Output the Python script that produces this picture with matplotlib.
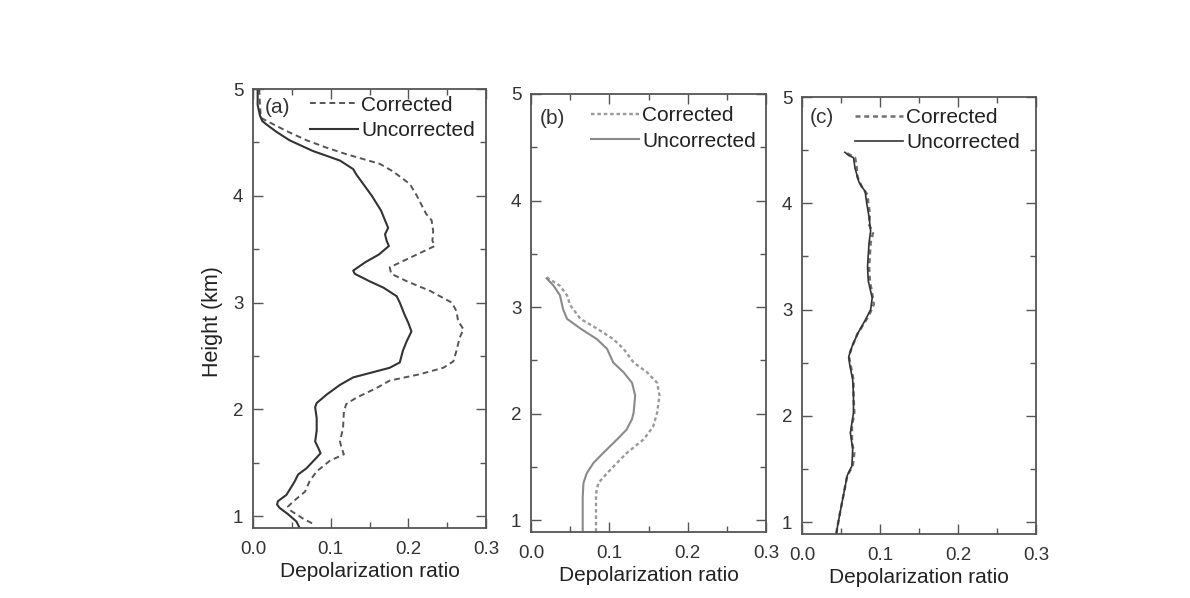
import matplotlib
matplotlib.use("Agg")
import matplotlib.pyplot as plt
from matplotlib.ticker import MultipleLocator

plt.rcParams["font.family"] = ["Liberation Sans", "DejaVu Sans"]

# panel (a)
a_unc_h = [5.0, 4.85, 4.75, 4.70, 4.67, 4.60, 4.52, 4.42, 4.33, 4.25, 4.20, 4.10, 4.00,
           3.86, 3.77, 3.70, 3.64, 3.58, 3.53, 3.45, 3.38, 3.30, 3.27, 3.20, 3.14, 3.06,
           3.00, 2.89, 2.81, 2.73, 2.70, 2.64, 2.55, 2.44, 2.39, 2.30, 2.23, 2.14, 2.06,
           2.02, 1.92, 1.80, 1.70, 1.64, 1.59, 1.55, 1.45, 1.39, 1.33, 1.27, 1.20, 1.14,
           1.11, 1.08, 1.02, 0.95, 0.89]
a_unc_r = [0.006, 0.006, 0.009, 0.012, 0.017, 0.030, 0.047, 0.077, 0.112, 0.129, 0.133,
           0.143, 0.153, 0.165, 0.170, 0.174, 0.170, 0.172, 0.175, 0.162, 0.145, 0.129,
           0.131, 0.150, 0.168, 0.185, 0.189, 0.195, 0.200, 0.204, 0.202, 0.198, 0.193,
           0.189, 0.176, 0.129, 0.112, 0.095, 0.082, 0.080, 0.082, 0.082, 0.080, 0.084,
           0.087, 0.082, 0.069, 0.058, 0.054, 0.049, 0.043, 0.032, 0.031, 0.034, 0.045,
           0.056, 0.060]
a_cor_h = [5.0, 4.85, 4.73, 4.67, 4.60, 4.52, 4.45, 4.39, 4.30, 4.23, 4.11, 4.00, 3.83,
           3.77, 3.67, 3.58, 3.53, 3.43, 3.33, 3.27, 3.20, 3.11, 3.00, 2.92, 2.83, 2.75,
           2.67, 2.55, 2.45, 2.39, 2.33, 2.27, 2.20, 2.11, 2.05, 1.98, 1.83, 1.70, 1.64,
           1.58, 1.52, 1.42, 1.33, 1.23, 1.14, 1.09, 1.05, 0.98, 0.93]
a_cor_r = [0.008, 0.009, 0.010, 0.026, 0.045, 0.069, 0.095, 0.120, 0.163, 0.180, 0.202,
           0.211, 0.223, 0.230, 0.232, 0.231, 0.234, 0.205, 0.176, 0.178, 0.198, 0.228,
           0.256, 0.262, 0.264, 0.271, 0.266, 0.262, 0.258, 0.245, 0.215, 0.176, 0.159,
           0.133, 0.120, 0.117, 0.116, 0.112, 0.114, 0.117, 0.099, 0.082, 0.073, 0.067,
           0.052, 0.045, 0.049, 0.064, 0.077]

# panel (b)
b_unc_h = [3.27, 3.20, 3.11, 2.98, 2.89, 2.80, 2.70, 2.61, 2.48, 2.39, 2.29, 2.17, 2.01,
           1.95, 1.85, 1.76, 1.63, 1.54, 1.44, 1.35, 1.22, 0.89]
b_unc_r = [0.020, 0.029, 0.037, 0.041, 0.046, 0.063, 0.084, 0.097, 0.105, 0.118, 0.129,
           0.133, 0.131, 0.129, 0.122, 0.110, 0.092, 0.080, 0.071, 0.067, 0.066, 0.066]
b_cor_h = [3.28, 3.20, 3.11, 3.02, 2.89, 2.80, 2.70, 2.61, 2.48, 2.39, 2.29, 2.17, 2.01,
           1.88, 1.76, 1.63, 1.54, 1.44, 1.35, 1.25, 0.89]
b_cor_r = [0.020, 0.037, 0.046, 0.050, 0.063, 0.084, 0.105, 0.118, 0.131, 0.148, 0.161,
           0.164, 0.161, 0.156, 0.144, 0.122, 0.110, 0.097, 0.086, 0.083, 0.083]

# panel (c)
c_unc_h = [4.48, 4.45, 4.43, 4.33, 4.20, 4.11, 4.00, 3.87, 3.74, 3.63, 3.52, 3.40, 3.27,
           3.11, 3.00, 2.90, 2.77, 2.65, 2.56, 2.49, 2.34, 2.20, 2.03, 1.84, 1.69, 1.53,
           1.44, 1.25, 1.10, 0.94, 0.89]
c_unc_r = [0.055, 0.060, 0.066, 0.068, 0.073, 0.081, 0.083, 0.086, 0.088, 0.086, 0.085,
           0.084, 0.085, 0.090, 0.088, 0.081, 0.071, 0.064, 0.060, 0.061, 0.065, 0.066,
           0.066, 0.062, 0.065, 0.064, 0.058, 0.053, 0.049, 0.045, 0.044]
c_cor_h = [4.47, 4.43, 4.35, 4.25, 4.15, 4.08, 4.00, 3.90, 3.80, 3.72, 3.63, 3.52, 3.40,
           3.27, 3.15, 3.05, 2.98, 2.90, 2.77, 2.65, 2.56, 2.49, 2.34, 2.20, 2.03, 1.90,
           1.75, 1.65, 1.53, 1.44, 1.25, 1.10, 0.94, 0.89]
c_cor_r = [0.058, 0.068, 0.070, 0.071, 0.077, 0.084, 0.085, 0.087, 0.086, 0.091, 0.088,
           0.087, 0.086, 0.087, 0.090, 0.092, 0.088, 0.082, 0.071, 0.064, 0.060, 0.062,
           0.066, 0.066, 0.067, 0.064, 0.064, 0.067, 0.065, 0.058, 0.053, 0.049, 0.045,
           0.044]

panels = [
    # rect, tag, tag pos, legend anchor, corrected, uncorrected, show ylabel
    ([253 / 1190, 1 - 528 / 598, 233 / 1190, 439 / 598], "(a)", (0.05, 0.957), (0.245, 0.985),
     a_cor_h, a_cor_r, dict(color="#555555", ls=(0, (3, 2)), lw=1.4),
     a_unc_h, a_unc_r, dict(color="#333333", ls="-", lw=1.5), True),
    ([531 / 1190, 1 - 532 / 598, 235 / 1190, 438 / 598], "(b)", (0.038, 0.945), (0.255, 0.972),
     b_cor_h, b_cor_r, dict(color="#9a9a9a", ls=(0, (1.5, 1.2)), lw=1.7),
     b_unc_h, b_unc_r, dict(color="#8a8a8a", ls="-", lw=1.5), False),
    ([802 / 1190, 1 - 534 / 598, 234 / 1190, 437 / 598], "(c)", (0.035, 0.954), (0.228, 0.975),
     c_cor_h, c_cor_r, dict(color="#707070", ls=(0, (2, 1.5)), lw=1.8),
     c_unc_h, c_unc_r, dict(color="#333333", ls="-", lw=1.2), False),
]

fig = plt.figure(figsize=(11.9, 5.98), dpi=100)

for rect, tag, tagpos, leg_anchor, ch, cr, cst, uh, ur, ust, ylab in panels:
    ax = fig.add_axes(rect)
    ax.plot(cr, ch, label="Corrected", **cst)
    ax.plot(ur, uh, label="Uncorrected", **ust)
    ax.set_xlim(0, 0.3)
    ax.set_ylim(0.89, 5)
    ax.xaxis.set_major_locator(MultipleLocator(0.1))
    ax.xaxis.set_minor_locator(MultipleLocator(0.05))
    ax.yaxis.set_major_locator(MultipleLocator(1))
    ax.yaxis.set_minor_locator(MultipleLocator(0.5))
    ax.xaxis.set_major_formatter(plt.FuncFormatter(lambda v, p: f"{v:.1f}"))
    ax.yaxis.set_major_formatter(plt.FuncFormatter(lambda v, p: f"{v:.0f}"))
    ax.tick_params(which="both", direction="in", top=True, right=True,
                   color="#555555", width=1.0, labelcolor="#333333")
    ax.tick_params(which="major", length=7, labelsize=13.5)
    ax.tick_params(which="minor", length=4)
    ax.tick_params(axis="x", which="major", pad=9)
    ax.tick_params(axis="y", which="major", pad=7)
    for sp in ax.spines.values():
        sp.set_color("#555555")
        sp.set_linewidth(1.3)
    ax.set_xlabel("Depolarization ratio", fontsize=15, color="#222222", labelpad=3)
    if ylab:
        ax.set_ylabel("Height (km)", fontsize=15.5, color="#222222")
        ax.yaxis.set_label_coords(-0.13, 0.47)
    ax.text(tagpos[0], tagpos[1], tag, transform=ax.transAxes, fontsize=15,
            color="#333333", ha="left", va="center")
    ax.legend(loc="upper left", bbox_to_anchor=leg_anchor, frameon=False,
              fontsize=15, handlelength=2.3, handletextpad=0.15,
              labelspacing=0.3, borderpad=0, borderaxespad=0,
              labelcolor="#222222")

fig.savefig("out.png", dpi=100)
